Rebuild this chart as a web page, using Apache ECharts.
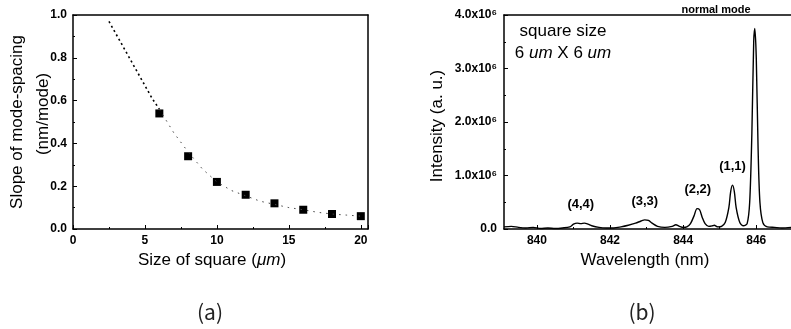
<!DOCTYPE html>
<html>
<head>
<meta charset="utf-8">
<script src="https://cdn.jsdelivr.net/npm/echarts@6/dist/echarts.min.js"></script>
<style>html,body{margin:0;padding:0;background:#fff;}#c{width:791px;height:329px;}</style>
</head>
<body>
<div id="c"></div>
<script>
// ---- Panel (a) data ----
const sizeCategories = [6, 8, 10, 12, 14, 16, 18, 20];
const slopeValues = [0.54, 0.34, 0.22, 0.16, 0.12, 0.09, 0.07, 0.06];
const fitNearX = [2.5, 3.5, 4.5, 5.5, 6.0];
const fitNearY = [0.97, 0.85, 0.73, 0.61, 0.56];
const fitFarX = [6.0, 7, 8, 9, 10, 11, 12, 13, 14, 15, 16, 17, 18, 19, 20];
const fitFarY = [0.56, 0.45, 0.36, 0.28, 0.22, 0.18, 0.155, 0.13, 0.115, 0.10, 0.09, 0.078, 0.07, 0.065, 0.06];
const slopeTicks = ['0.0', '0.2', '0.4', '0.6', '0.8', '1.0'];

// ---- Panel (b) data (intensity in units of 10^6) ----
const wavelength = [839.1, 839.3, 839.5, 839.7, 839.9, 840.1, 840.3, 840.5, 840.7, 840.9, 841.0, 841.1, 841.2, 841.3, 841.4, 841.5, 841.7, 841.9, 842.1, 842.3, 842.5, 842.7, 842.85, 842.95, 843.05, 843.15, 843.3, 843.5, 843.7, 843.8, 843.9, 844.0, 844.1, 844.2, 844.3, 844.38, 844.45, 844.52, 844.6, 844.7, 844.8, 844.85, 844.95, 845.05, 845.15, 845.25, 845.3, 845.35, 845.4, 845.45, 845.55, 845.65, 845.75, 845.82, 845.88, 845.93, 845.96, 846.0, 846.05, 846.1, 846.18, 846.3, 846.5, 846.7, 846.95];
const intensity = [0.04, 0.05, 0.03, 0.02, 0.03, 0.01, 0.02, 0.01, 0.02, 0.04, 0.09, 0.11, 0.10, 0.11, 0.09, 0.06, 0.03, 0.02, 0.02, 0.04, 0.07, 0.11, 0.15, 0.17, 0.16, 0.11, 0.05, 0.03, 0.05, 0.08, 0.05, 0.03, 0.04, 0.10, 0.25, 0.38, 0.36, 0.22, 0.10, 0.05, 0.06, 0.07, 0.04, 0.05, 0.12, 0.40, 0.70, 0.82, 0.70, 0.40, 0.12, 0.06, 0.10, 0.50, 1.8, 3.5, 3.75, 3.2, 1.5, 0.5, 0.12, 0.04, 0.03, 0.02, 0.03];
const wlTicks = [840, 842, 844, 846];
const wlMinorTicks = [841, 843, 845];
const intensityTicks = ['0.0', '1.0x10⁶', '2.0x10⁶', '3.0x10⁶', '4.0x10⁶'];
const modeLabels = [
  { text: '(4,4)', x: 841.2, y: 0.11 },
  { text: '(3,3)', x: 842.95, y: 0.17 },
  { text: '(2,2)', x: 844.4, y: 0.39 },
  { text: '(1,1)', x: 845.35, y: 0.82 }
];

const FONT = '"Liberation Sans", Arial, "DejaVu Sans", sans-serif';
const tickLabel = { color: '#000', fontFamily: FONT, fontSize: 12, fontWeight: 'bold' };

const chart = echarts.init(document.getElementById('c'), null, { renderer: 'canvas' });

const lineAxis = { onZero: false, lineStyle: { color: '#000', width: 1.5 } };
const borderAxis = {
  axisLine: { show: true, onZero: false, lineStyle: { color: '#000', width: 1.5 } },
  axisTick: { show: false }, axisLabel: { show: false }, splitLine: { show: false }
};

const option = {
  animation: false,
  backgroundColor: '#fff',
  grid: [
    { left: 73, top: 15, width: 295, height: 214 },
    { left: 504, top: 15, width: 288, height: 214 }
  ],
  xAxis: [
    {
      gridIndex: 0, type: 'value', min: 0, max: 20.5, interval: 5,
      axisLine: lineAxis,
      axisTick: { inside: true, length: 4, lineStyle: { color: '#000' } },
      minorTick: { show: true, splitNumber: 2, length: 2, lineStyle: { color: '#000' } },
      splitLine: { show: false },
      axisLabel: Object.assign({ margin: 6, showMaxLabel: false }, tickLabel)
    },
    {
      gridIndex: 1, type: 'value', min: 839.1, max: 846.95,
      axisLine: lineAxis,
      axisTick: { inside: true, length: 4, customValues: wlTicks, lineStyle: { color: '#000' } },
      splitLine: { show: false },
      axisLabel: Object.assign({ margin: 6, customValues: wlTicks }, tickLabel)
    },
    {
      gridIndex: 1, type: 'value', min: 839.1, max: 846.95, position: 'bottom',
      axisLine: { show: false },
      axisTick: { inside: true, length: 2, customValues: wlMinorTicks, lineStyle: { color: '#000' } },
      splitLine: { show: false },
      axisLabel: { show: false }
    },
    Object.assign({ gridIndex: 0, type: 'value', min: 0, max: 20.5, position: 'top' }, borderAxis),
    Object.assign({ gridIndex: 1, type: 'value', min: 839.1, max: 846.95, position: 'top' }, borderAxis)
  ],
  yAxis: [
    {
      gridIndex: 0, type: 'value', min: 0, max: 1, interval: 0.2,
      axisLine: lineAxis,
      axisTick: { inside: true, length: 4, lineStyle: { color: '#000' } },
      minorTick: { show: true, splitNumber: 2, length: 2, lineStyle: { color: '#000' } },
      splitLine: { show: false },
      axisLabel: Object.assign({ margin: 6, formatter: (v) => slopeTicks[Math.round(v / 0.2)] }, tickLabel)
    },
    {
      gridIndex: 1, type: 'value', min: 0, max: 4, interval: 1,
      axisLine: lineAxis,
      axisTick: { inside: true, length: 4, lineStyle: { color: '#000' } },
      minorTick: { show: true, splitNumber: 2, length: 2, lineStyle: { color: '#000' } },
      splitLine: { show: false },
      axisLabel: Object.assign({ margin: 7, formatter: (v) => intensityTicks[Math.round(v)] }, tickLabel)
    },
    Object.assign({ gridIndex: 0, type: 'value', min: 0, max: 1, position: 'right' }, borderAxis)
  ],
  series: [
    {
      type: 'line', xAxisIndex: 0, yAxisIndex: 0, symbol: 'none', silent: true,
      data: fitNearX.map((x, i) => [x, fitNearY[i]]),
      lineStyle: { color: '#000', width: 1.6, type: [2, 3] }
    },
    {
      type: 'line', xAxisIndex: 0, yAxisIndex: 0, symbol: 'none', silent: true,
      data: fitFarX.map((x, i) => [x, fitFarY[i]]),
      lineStyle: { color: '#444', width: 1, type: [1.5, 5] }
    },
    {
      type: 'scatter', xAxisIndex: 0, yAxisIndex: 0, symbol: 'rect', symbolSize: 8,
      itemStyle: { color: '#000', opacity: 1 },
      data: sizeCategories.map((x, i) => [x, slopeValues[i]])
    },
    {
      type: 'line', xAxisIndex: 1, yAxisIndex: 1, symbol: 'none', smooth: 0.3,
      data: wavelength.map((x, i) => [x, intensity[i]]),
      lineStyle: { color: '#000', width: 1.4 },
      markPoint: {
        symbol: 'circle', symbolSize: 0, silent: true,
        label: {
          show: true, color: '#000', fontFamily: FONT, fontSize: 13, fontWeight: 'bold',
          position: 'top', distance: 0,
          formatter: (p) => p.name,
          offset: [0, -12]
        },
        data: modeLabels.map((m) => ({ name: m.text, coord: [m.x, m.y] }))
      }
    }
  ],
  graphic: [
    { type: 'text', x: 17, y: 122, rotation: Math.PI / 2,
      style: { text: 'Slope of mode-spacing', fill: '#000', font: '17px ' + FONT, align: 'center', verticalAlign: 'middle' } },
    { type: 'text', x: 43, y: 114, rotation: Math.PI / 2,
      style: { text: '(nm/mode)', fill: '#000', font: '17px ' + FONT, align: 'center', verticalAlign: 'middle' } },
    { type: 'text', x: 212, y: 260,
      style: { text: 'Size of square ({i|μm})', fill: '#000', font: '17px ' + FONT, align: 'center', verticalAlign: 'middle',
        rich: { i: { fontStyle: 'italic', fontSize: 17, fontFamily: FONT } } } },
    { type: 'text', x: 437, y: 126, rotation: Math.PI / 2,
      style: { text: 'Intensity (a. u.)', fill: '#000', font: '17px ' + FONT, align: 'center', verticalAlign: 'middle' } },
    { type: 'text', x: 645, y: 260,
      style: { text: 'Wavelength (nm)', fill: '#000', font: '17px ' + FONT, align: 'center', verticalAlign: 'middle' } },
    { type: 'text', x: 563, y: 31,
      style: { text: 'square size', fill: '#000', font: '17px ' + FONT, align: 'center', verticalAlign: 'middle' } },
    { type: 'text', x: 563, y: 53,
      style: { text: '6 {i|um} X 6 {i|um}', fill: '#000', font: '17px ' + FONT, align: 'center', verticalAlign: 'middle',
        rich: { i: { fontStyle: 'italic', fontSize: 17, fontFamily: FONT } } } },
    { type: 'text', x: 716, y: 10,
      style: { text: 'normal mode', fill: '#000', font: 'bold 11px ' + FONT, align: 'center', verticalAlign: 'middle' } },
    { type: 'text', x: 210, y: 312,
      style: { text: '(a)', fill: '#222', font: '21px "Noto Sans CJK KR", "DejaVu Sans", sans-serif', align: 'center', verticalAlign: 'middle' } },
    { type: 'text', x: 642, y: 312,
      style: { text: '(b)', fill: '#222', font: '21px "Noto Sans CJK KR", "DejaVu Sans", sans-serif', align: 'center', verticalAlign: 'middle' } }
  ]
};
chart.setOption(option);
</script>
</body>
</html>
